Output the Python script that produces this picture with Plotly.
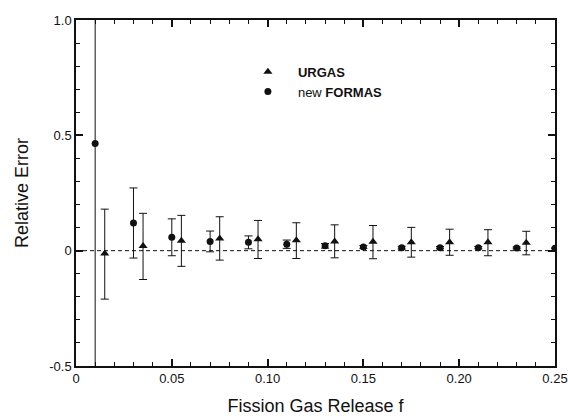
import plotly.graph_objects as go

# FORMAS (circles)
formas_x = [0.01, 0.03, 0.05, 0.07, 0.09, 0.11, 0.13, 0.15, 0.17, 0.19, 0.21, 0.23, 0.25]
formas_y = [0.465, 0.12, 0.058, 0.04, 0.036, 0.028, 0.021, 0.016, 0.013, 0.013, 0.013, 0.012, 0.011]
formas_err = [1.6, 0.152, 0.08, 0.045, 0.028, 0.018, 0.01, 0.006, 0.006, 0.005, 0.005, 0.004, 0.0]

# URGAS (triangles)
urgas_x = [0.015, 0.035, 0.055, 0.075, 0.095, 0.115, 0.135, 0.155, 0.175, 0.195, 0.215, 0.235]
urgas_y = [-0.012, 0.02, 0.043, 0.053, 0.049, 0.045, 0.04, 0.039, 0.037, 0.037, 0.036, 0.034]
urgas_err_plus = [0.192, 0.142, 0.11, 0.094, 0.082, 0.076, 0.072, 0.07, 0.064, 0.056, 0.055, 0.05]
urgas_err_minus = [0.198, 0.145, 0.111, 0.094, 0.083, 0.079, 0.071, 0.074, 0.065, 0.057, 0.058, 0.052]

# tick label aliases (formatted value -> shown text)
x_label_alias = {"0.00": "0"}
y_label_alias = {"0.0": "0", "\u22120.5": "-0.5"}

FONT = "Liberation Sans, Arial, sans-serif"
INK = "#111111"

fig = go.Figure()

# reference dashed line at 0
fig.add_trace(go.Scatter(x=[0, 0.25], y=[0, 0], mode="lines",
                         line=dict(color=INK, width=1, dash="4px,3px"),
                         showlegend=False, hoverinfo="skip"))

fig.add_trace(go.Scatter(
    x=urgas_x, y=urgas_y, mode="markers", name="<b>URGAS</b>",
    marker=dict(symbol="triangle-up", size=8, color=INK),
    error_y=dict(type="data", symmetric=False, array=urgas_err_plus,
                 arrayminus=urgas_err_minus, color=INK, thickness=1, width=4),
))
fig.add_trace(go.Scatter(
    x=formas_x, y=formas_y, mode="markers", name="new <b>FORMAS</b>",
    marker=dict(symbol="circle", size=7, color=INK),
    error_y=dict(type="data", array=formas_err, color=INK, thickness=1, width=4),
))

fig.update_xaxes(
    range=[0, 0.25], tick0=0, dtick=0.05, tickformat=".2f",
    labelalias=x_label_alias,
    showline=True, linecolor=INK, linewidth=1.5, mirror="allticks",
    ticks="inside", ticklen=7, tickwidth=1.5, tickcolor=INK,
    minor=dict(dtick=0.01, ticks="inside", ticklen=4, tickwidth=1.2, tickcolor=INK),
    tickfont=dict(family=FONT, size=13, color=INK),
    title=dict(text="Fission Gas Release f", font=dict(family=FONT, size=18, color=INK), standoff=14),
)
fig.update_yaxes(
    range=[-0.5, 1.0], tick0=0, dtick=0.5, tickformat=".1f",
    labelalias=y_label_alias,
    showline=True, linecolor=INK, linewidth=1.5, mirror="allticks",
    ticks="inside", ticklen=7, tickwidth=1.5, tickcolor=INK,
    minor=dict(dtick=0.1, ticks="inside", ticklen=4, tickwidth=1.2, tickcolor=INK),
    tickfont=dict(family=FONT, size=13, color=INK),
    title=dict(text="Relative Error", font=dict(family=FONT, size=18, color=INK), standoff=16),
)

fig.update_layout(
    width=568, height=416,
    margin=dict(l=76, r=13, t=20, b=50, autoexpand=False),
    paper_bgcolor="white", plot_bgcolor="white",
    legend=dict(x=0.338, y=0.894, xanchor="left", yanchor="top",
                itemwidth=50, font=dict(family=FONT, size=13, color=INK),
                bgcolor="rgba(0,0,0,0)", tracegroupgap=0),
    showlegend=True,
)

fig.write_html("out.html")
